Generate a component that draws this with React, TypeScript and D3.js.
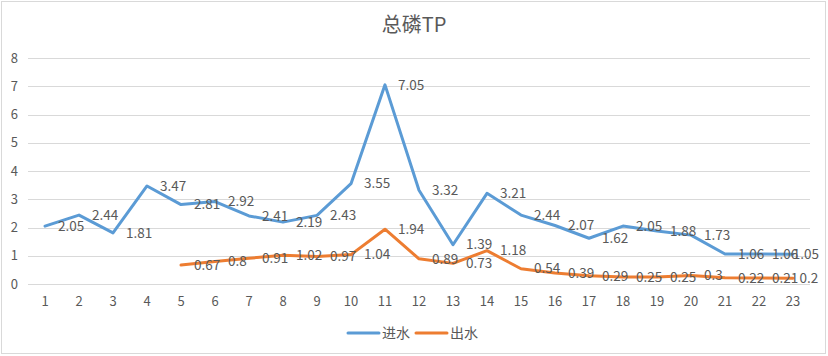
import React from "react";
import * as d3 from "d3";

const categories = ["1","2","3","4","5","6","7","8","9","10","11","12","13","14","15","16","17","18","19","20","21","22","23"];
const inflow = [2.05,2.44,1.81,3.47,2.81,2.92,2.41,2.19,2.43,3.55,7.05,3.32,1.39,3.21,2.44,2.07,1.62,2.05,1.88,1.73,1.06,1.06,1.05];
const outflow: (number | null)[] = [null,null,null,null,0.67,0.8,0.91,1.02,0.97,1.04,1.94,0.89,0.73,1.18,0.54,0.39,0.29,0.25,0.25,0.3,0.22,0.21,0.2];
const yTicks = [0,1,2,3,4,5,6,7,8];
const seriesNames = ["进水", "出水"];
const title = "总磷TP";

const W = 828, H = 356;
const FONT = "'Noto Sans CJK SC', 'Noto Sans', sans-serif";
const TXT = "#595959";
const colors = ["#5B9BD5", "#ED7D31"];

export default function App() {
  const x = d3.scaleBand<string>().domain(categories).range([28, 810]);
  const cx = (c: string) => (x(c) as number) + x.bandwidth() / 2;
  const y = d3.scaleLinear().domain([0, 8]).range([284, 58]);

  const series = [inflow, outflow];
  const line = d3.line<number | null>()
    .defined((d) => d !== null)
    .x((_, i) => cx(categories[i]))
    .y((d) => y(d as number));

  const labelX = (c: string, txt: string) => {
    const w = txt.length * 6.8;
    const start = cx(c) + 13;
    return Math.min(start, 820 - w);
  };

  return (
    <div style={{ position: "absolute", left: 0, top: 0 }}>
      <svg width={W} height={H} style={{ display: "block", background: "#fff" }} fontFamily={FONT}>
        <rect x={1.5} y={1.5} width={824} height={352} fill="#fff" stroke="#D9D9D9" />
        <text x={414} y={32} textAnchor="middle" fontSize={20} fill={TXT}>{title}</text>
        {yTicks.map((t) => (
          <g key={t}>
            <line x1={28} x2={810} y1={Math.round(y(t)) + 0.5} y2={Math.round(y(t)) + 0.5} stroke="#D9D9D9" strokeWidth={1} />
            <text x={18} y={y(t)} dy="0.35em" textAnchor="end" fontSize={13} fill={TXT}>{t}</text>
          </g>
        ))}
        {categories.map((c) => (
          <text key={c} x={cx(c)} y={306} textAnchor="middle" fontSize={13} fill={TXT}>{c}</text>
        ))}
        {series.map((s, si) => (
          <path key={si} d={line(s) || ""} fill="none" stroke={colors[si]} strokeWidth={3} strokeLinejoin="round" strokeLinecap="round" />
        ))}
        {series.map((s, si) =>
          s.map((v, i) => {
            if (v === null) return null;
            const txt = String(v);
            return (
              <text key={si + "-" + i} x={labelX(categories[i], txt)} y={y(v)} dy="0.35em" fontSize={13.5} fill={TXT}>{txt}</text>
            );
          })
        )}
        <g>
          <line x1={348} x2={379} y1={333} y2={333} stroke={colors[0]} strokeWidth={3} strokeLinecap="round" />
          <text x={382} y={333} dy="0.35em" fontSize={14} fill={TXT}>{seriesNames[0]}</text>
          <line x1={416} x2={447} y1={333} y2={333} stroke={colors[1]} strokeWidth={3} strokeLinecap="round" />
          <text x={450} y={333} dy="0.35em" fontSize={14} fill={TXT}>{seriesNames[1]}</text>
        </g>
      </svg>
    </div>
  );
}
